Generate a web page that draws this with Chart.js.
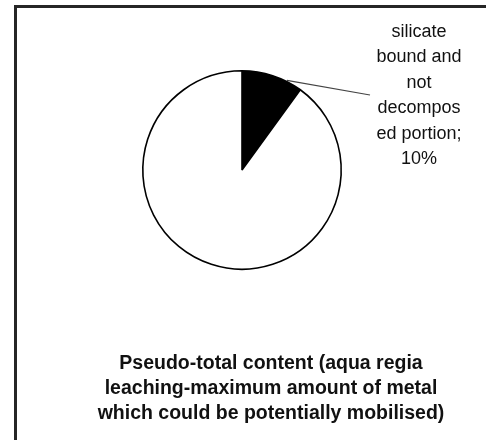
<!DOCTYPE html>
<html>
<head>
<meta charset="utf-8">
<title>Pseudo-total content</title>
<script src="https://cdn.jsdelivr.net/npm/chart.js@4/dist/chart.umd.min.js"></script>
<style>
  html, body { margin: 0; padding: 0; background: #fff; overflow: hidden; }
  #wrap { position: relative; width: 486px; height: 440px; }
</style>
</head>
<body>
<div id="wrap"><canvas id="chart"></canvas></div>
<script>
// Share of the pseudo-total content (aqua regia leaching)
const categories = ['silicate bound and not decomposed portion', 'remaining portion'];
const values = [10, 90];
const sliceColors = ['#000000', '#ffffff'];

// Text of the slice label (the percentage is appended from the value)
const labelLines = ['silicate', 'bound and', 'not', 'decompos', 'ed portion;'];

// Caption below the pie
const titleLines = [
  'Pseudo-total content (aqua regia',
  'leaching-maximum amount of metal',
  'which could be potentially mobilised)'
];

const decorations = {
  id: 'decorations',
  beforeDraw(chart) {
    const ctx = chart.ctx;
    ctx.save();
    ctx.fillStyle = '#fff';
    ctx.fillRect(0, 0, chart.width, chart.height);
    // frame
    ctx.fillStyle = '#262626';
    ctx.fillRect(14, 5, 3, chart.height);
    ctx.fillRect(14, 5, chart.width, 3);
    ctx.restore();
  },
  afterDatasetsDraw(chart) {
    const ctx = chart.ctx;
    const arc = chart.getDatasetMeta(0).data[0];
    const p = arc.getProps(['x', 'y', 'startAngle', 'endAngle', 'outerRadius'], true);
    const a = p.startAngle + 0.74 * (p.endAngle - p.startAngle);
    const sx = p.x + Math.cos(a) * (p.outerRadius + 1);
    const sy = p.y + Math.sin(a) * (p.outerRadius + 1);

    ctx.save();
    // leader line to the label
    ctx.strokeStyle = '#444';
    ctx.lineWidth = 1.2;
    ctx.beginPath();
    ctx.moveTo(sx, sy);
    ctx.lineTo(370, 95);
    ctx.stroke();

    // slice label
    ctx.fillStyle = '#111';
    ctx.textAlign = 'center';
    ctx.textBaseline = 'middle';
    ctx.font = '18px "Liberation Sans", Arial, sans-serif';
    const lines = labelLines.concat([values[0] + '%']);
    lines.forEach((t, i) => ctx.fillText(t, 419, 32 + i * 25.4));

    // caption
    ctx.font = 'bold 19.5px "Liberation Sans", Arial, sans-serif';
    titleLines.forEach((t, i) => ctx.fillText(t, 271, 364 + i * 25));
    ctx.restore();
  }
};

new Chart(document.getElementById('chart'), {
  type: 'pie',
  data: {
    labels: categories,
    datasets: [{
      data: values,
      backgroundColor: sliceColors,
      borderColor: '#000',
      borderWidth: 1.6,
      hoverOffset: 0
    }]
  },
  options: {
    responsive: true,
    maintainAspectRatio: false,
    animation: false,
    events: [],
    layout: { padding: { left: 142, right: 144, top: 70, bottom: 170 } },
    plugins: {
      legend: { display: false },
      tooltip: { enabled: false },
      title: { display: false }
    }
  },
  plugins: [decorations]
});
</script>
</body>
</html>
